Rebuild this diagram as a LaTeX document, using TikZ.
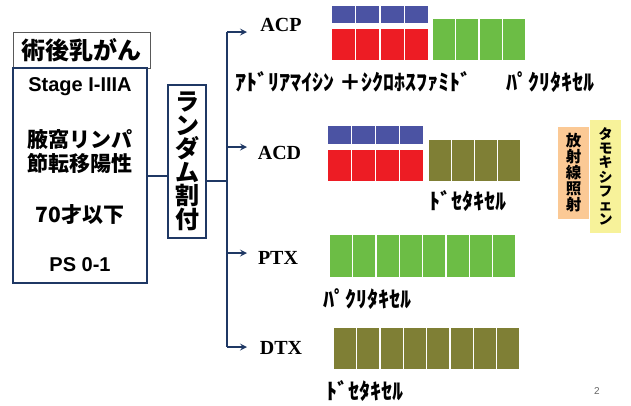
\documentclass[tikz,border=0pt]{standalone}
\usepackage{fontspec}
\setmainfont{Liberation Serif}
\setsansfont{Liberation Sans}
\newfontfamily\jp{Noto Sans CJK JP}
\usetikzlibrary{positioning}
\definecolor{navy}{HTML}{1F3864}
\definecolor{cblue}{HTML}{4B53A3}
\definecolor{cred}{HTML}{ED1C24}
\definecolor{cgreen}{HTML}{6CBD45}
\definecolor{colive}{HTML}{7F7F35}
\definecolor{rtorange}{HTML}{FBC995}
\definecolor{tamyellow}{HTML}{F7F29A}

\begin{document}
\begin{tikzpicture}[x=1pt,y=1pt]
  \tikzstyle{line} = [draw=navy, line width=2pt]
  \tikzstyle{arrow} = [line, ->, >=stealth]
  \tikzstyle{blk} = [rectangle, draw=white, line width=0.8pt, inner sep=0pt, minimum width=24pt, anchor=north west]
  \tikzstyle{cond} = [font=\sffamily\bfseries\fontsize{20}{20}\selectfont]
  \tikzstyle{condjp} = [font=\jp\bfseries\fontsize{21}{21}\selectfont]
  \tikzstyle{arm} = [font=\bfseries\fontsize{20}{20}\selectfont]
  \tikzstyle{drug} = [anchor=west, inner sep=0pt, font=\jp\bfseries\fontsize{22}{22}\selectfont]
  \useasboundingbox (0,0) rectangle (631,-405);

  % patients
  \node (title) [rectangle, draw=gray!70!black, line width=0.8pt, minimum width=137pt, minimum height=36pt, font=\jp\bfseries\fontsize{24}{24}\selectfont] at (81.5,-50) {術後乳がん};
  \node (main) [rectangle, draw=navy, line width=2pt, minimum width=134pt, minimum height=215pt] at (80,-175.5) {};
  \node (stage) [cond] at (80,-87) {Stage I-IIIA};
  \node (axil1) [condjp] at (80,-140) {腋窩リンパ};
  \node (axil2) [condjp] at (80,-163) {節転移陽性};
  \node (age) [condjp] at (80,-215) {70才以下};
  \node (ps) [cond] at (80,-265) {PS 0-1};

  % randomisation
  \node (rand) [rectangle, draw=navy, line width=2pt, minimum width=38pt, minimum height=153pt, align=center, font=\jp\bfseries\fontsize{24}{23.5}\selectfont] at (187,-161.5) {ラ\\ン\\ダ\\ム\\割\\付};
  \draw [line] (main.east) -- (main.east -| rand.west);

  \coordinate (top) at (227,-32);
  \coordinate (bot) at (227,-347);
  \coordinate (split) at (227,-181);
  \coordinate (eacp) at (247,-32);
  \coordinate (eacd) at (247,-147);
  \coordinate (eptx) at (247,-253);
  \coordinate (edtx) at (247,-347);
  \draw [line] (rand.east |- split) -- (split);
  \draw [line] (top) -- (bot);
  \draw [arrow] (top) -- (eacp);
  \draw [arrow] (top |- eacd) -- (eacd);
  \draw [arrow] (top |- eptx) -- (eptx);
  \draw [arrow] (bot) -- (edtx);

  \node (acp) [arm] at (281,-25) {ACP};
  \node (acd) [arm] at (279.5,-153) {ACD};
  \node (ptx) [arm] at (278,-258) {PTX};
  \node (dtx) [arm] at (281,-348) {DTX};

  % treatment blocks
  \foreach \i in {0,...,3} {
    \node (acpB\i) [blk, fill=cblue, minimum height=18pt] at (331+24.3*\i,-5) {};
    \node (acpR\i) [blk, fill=cred, minimum height=32pt] at (331+24.3*\i,-28) {};
    \node (acpG\i) [blk, fill=cgreen, minimum height=42pt, minimum width=23pt] at (432+23.3*\i,-18) {};
    \node (acdB\i) [blk, fill=cblue, minimum height=19pt] at (327+24*\i,-125) {};
    \node (acdR\i) [blk, fill=cred, minimum height=32pt] at (327+24*\i,-149) {};
    \node (acdO\i) [blk, fill=colive, minimum height=42pt, minimum width=23pt] at (428+23*\i,-139) {};
  }
  \foreach \i in {0,...,7} {
    \node (ptxG\i) [blk, fill=cgreen, minimum height=43pt, minimum width=23pt] at (329+23.3*\i,-234) {};
    \node (dtxO\i) [blk, fill=colive, minimum height=42pt, minimum width=23pt] at (333+23.3*\i,-327) {};
  }

  % drug names
  \node (ac) [drug] at (235,-82) {ｱﾄﾞﾘｱﾏｲｼﾝ ＋ｼｸﾛﾎｽﾌｧﾐﾄﾞ};
  \node (pac1) [drug] at (506,-82) {ﾊﾟｸﾘﾀｷｾﾙ};
  \node (doc1) [drug] at (429,-201) {ﾄﾞｾﾀｷｾﾙ};
  \node (pac2) [drug] at (323,-299) {ﾊﾟｸﾘﾀｷｾﾙ};
  \node (doc2) [drug] at (326,-391) {ﾄﾞｾﾀｷｾﾙ};

  % adjuvant
  \node (rt) [rectangle, fill=rtorange, minimum width=31pt, minimum height=92pt, inner sep=0pt, align=center, font=\jp\bfseries\fontsize{15.5}{16}\selectfont] at (573.5,-173) {放\\射\\線\\照\\射};
  \node (tam) [rectangle, fill=tamyellow, minimum width=31pt, minimum height=113pt, inner sep=0pt, align=center, font=\jp\bfseries\fontsize{14}{14.2}\selectfont] at (605.5,-176.5) {タ\\モ\\キ\\シ\\フ\\ェ\\ン};

  \node (page) [font=\sffamily\fontsize{10}{10}\selectfont, text=gray!80!black] at (597,-391) {2};
\end{tikzpicture}
\end{document}
